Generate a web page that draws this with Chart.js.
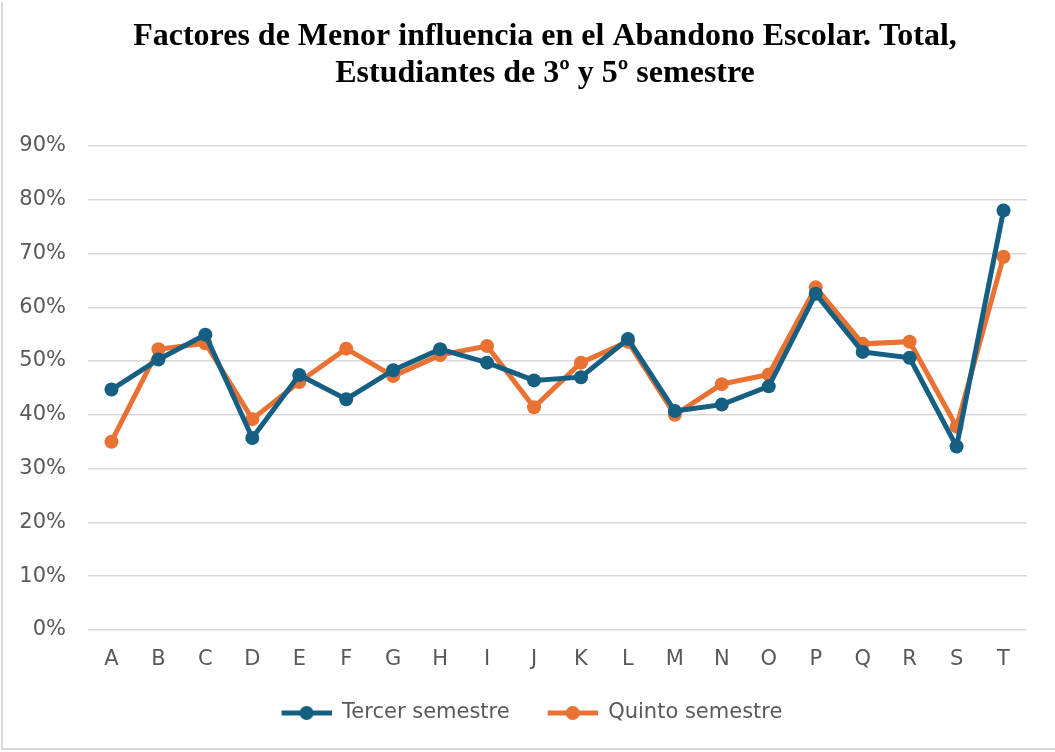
<!DOCTYPE html>
<html>
<head>
<meta charset="utf-8">
<script src="https://cdn.jsdelivr.net/npm/chart.js@4/dist/chart.umd.min.js"></script>
<style>
html,body{margin:0;padding:0;background:#fff;overflow:hidden;}
#wrap{position:relative;width:1055px;height:752px;overflow:hidden;}
#frame{position:absolute;left:1px;top:2px;width:1060px;height:746px;border-left:2px solid #d9d9d9;border-bottom:2px solid #d9d9d9;pointer-events:none;}
canvas{position:absolute;left:0;top:0;}
</style>
</head>
<body>
<div id="wrap">
<canvas id="c" width="1090" height="752"></canvas>
<div id="frame"></div>
</div>
<script>
const categories = ["A","B","C","D","E","F","G","H","I","J","K","L","M","N","O","P","Q","R","S","T"];
const tercer = [0.447,0.503,0.549,0.357,0.474,0.429,0.483,0.522,0.497,0.464,0.470,0.541,0.407,0.419,0.453,0.625,0.517,0.506,0.341,0.780];
const quinto = [0.350,0.522,0.533,0.392,0.461,0.523,0.472,0.511,0.528,0.414,0.497,0.536,0.400,0.457,0.475,0.637,0.532,0.536,0.378,0.694];
const yTicks = ["0%","10%","20%","30%","40%","50%","60%","70%","80%","90%"];
const seriesNames = ["Tercer semestre","Quinto semestre"];
const titleLines = ["Factores de Menor influencia en el Abandono Escolar. Total,","Estudiantes de 3º y 5º semestre"];

const BLUE = "#155f82";
const ORANGE = "#e97132";

function legendMarker(color){
  const cv = document.createElement("canvas");
  cv.width = 68; cv.height = 16;
  const g = cv.getContext("2d");
  g.strokeStyle = color; g.lineWidth = 5;
  g.beginPath(); g.moveTo(18,8); g.lineTo(68,8); g.stroke();
  g.fillStyle = color;
  g.beginPath(); g.arc(43,8,7,0,Math.PI*2); g.fill();
  return cv;
}
const markers = [legendMarker(BLUE), legendMarker(ORANGE)];

const font = "'DejaVu Sans', sans-serif";

const legendShift = {
  id: "legendShift",
  afterLayout(chart) {
    if (chart.legend) { chart.legend.left -= 22; chart.legend.right -= 22; }
  }
};

new Chart(document.getElementById("c"), {
  type: "line",
  data: {
    labels: categories,
    datasets: [
      {label: seriesNames[0], data: tercer, borderColor: BLUE, backgroundColor: BLUE, borderWidth: 5, pointRadius: 7, pointHoverRadius: 7, pointBorderWidth: 0, tension: 0},
      {label: seriesNames[1], data: quinto, borderColor: ORANGE, backgroundColor: ORANGE, borderWidth: 5, pointRadius: 7, pointHoverRadius: 7, pointBorderWidth: 0, tension: 0}
    ]
  },
  plugins: [legendShift],
  options: {
    responsive: false,
    animation: false,
    layout: {padding: {left: 0, right: 0, top: 0, bottom: 18.5}},
    plugins: {
      title: {
        display: true,
        text: titleLines,
        color: "#000",
        font: {family: "'Liberation Serif', 'Times New Roman', serif", size: 32, weight: "bold", lineHeight: 1.17},
        padding: {top: 18, bottom: 53}
      },
      legend: {
        position: "bottom",
        labels: {
          usePointStyle: true,
          pointStyleWidth: 68,
          color: "#595959",
          font: {family: font, size: 21},
          padding: 20,
          generateLabels: (chart) => chart.data.datasets.map((d, i) => ({
            text: d.label, pointStyle: markers[i], fillStyle: d.borderColor, strokeStyle: d.borderColor, lineWidth: 0, datasetIndex: i, hidden: false, fontColor: "#595959"
          }))
        }
      },
      tooltip: {enabled: false}
    },
    scales: {
      x: {
        offset: true,
        grid: {display: false, drawTicks: false},
        border: {display: false},
        ticks: {color: "#595959", font: {family: font, size: 21}, padding: 17},
        afterFit: (s) => { s.height = 52.5; }
      },
      y: {
        min: 0, max: 0.9,
        grid: {color: "#d9d9d9", lineWidth: 1.5, drawTicks: false},
        border: {display: false},
        ticks: {
          stepSize: 0.1,
          color: "#595959",
          font: {family: font, size: 21},
          padding: 22,
          callback: (v, i) => yTicks[Math.round(v*10)]
        },
        afterFit: (s) => { s.width = 88; }
      },
      yRight: {
        position: "right",
        min: 0, max: 0.9,
        grid: {display: false, drawTicks: false},
        border: {display: false},
        ticks: {display: false},
        afterFit: (s) => { s.width = 63; }
      }
    }
  }
});
</script>
</body>
</html>
